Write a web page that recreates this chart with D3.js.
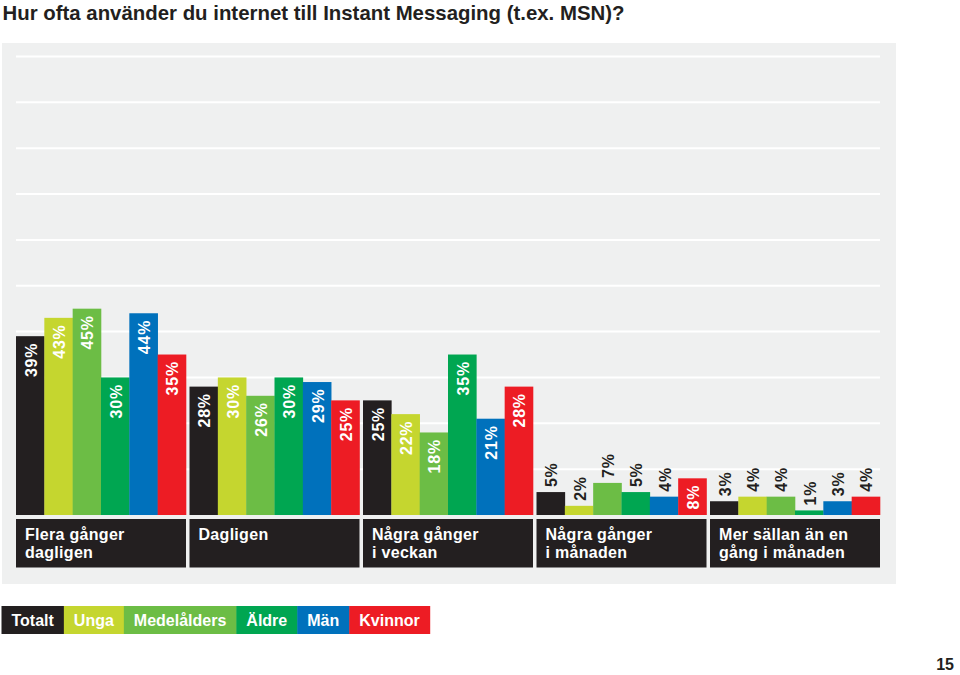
<!DOCTYPE html>
<html>
<head>
<meta charset="utf-8">
<script src="https://cdn.jsdelivr.net/npm/d3@7"></script>
<style>
  html, body { margin: 0; padding: 0; background: #ffffff; }
  svg { display: block; font-family: "Liberation Sans", Arial, Helvetica, sans-serif; }
</style>
</head>
<body>
<svg id="chart" width="960" height="675"></svg>
<script>
// ---- Data ----
const title = "Hur ofta använder du internet till Instant Messaging (t.ex. MSN)?";
const categories = [
  ["Flera gånger", "dagligen"],
  ["Dagligen"],
  ["Några gånger", "i veckan"],
  ["Några gånger", "i månaden"],
  ["Mer sällan än en", "gång i månaden"]
];
const seriesNames = ["Totalt", "Unga", "Medelålders", "Äldre", "Män", "Kvinnor"];
const totalt      = [39, 28, 25, 5, 3];
const unga        = [43, 30, 22, 2, 4];
const medelalders = [45, 26, 18, 7, 4];
const aldre       = [30, 30, 35, 5, 1];
const man         = [44, 29, 21, 4, 3];
const kvinnor     = [35, 25, 28, 8, 4];
const gridTicks   = [10, 20, 30, 40, 50, 60, 70, 80, 90, 100];
const pageNumber  = "15";

const seriesValues = [totalt, unga, medelalders, aldre, man, kvinnor];
const colors = ["#231f20", "#c5d62f", "#6cbd45", "#00a651", "#0071bc", "#ed1c24"];

// ---- Layout ----
const svg = d3.select("#chart");
const baseY = 515;

const x0 = d3.scaleBand().domain(d3.range(categories.length))
  .range([16, 880]).paddingInner(0.0202).paddingOuter(0);
const x1 = d3.scaleBand().domain(d3.range(seriesNames.length))
  .range([0, x0.bandwidth()]).padding(0);
const y = d3.scaleLinear().domain([0, 100]).range([baseY, 56.5]);

// Title
svg.append("text")
  .attr("x", 2.5).attr("y", 19.5)
  .attr("font-size", 21).attr("font-weight", "bold").attr("fill", "#231f20")
  .attr("textLength", 622).attr("lengthAdjust", "spacingAndGlyphs")
  .text(title);

// Background panel
svg.append("rect")
  .attr("x", 2).attr("y", 43).attr("width", 894).attr("height", 541)
  .attr("fill", "#eff0f0");

// Gridlines
svg.append("g").selectAll("line").data(gridTicks).join("line")
  .attr("x1", 16).attr("x2", 880)
  .attr("y1", d => y(d)).attr("y2", d => y(d))
  .attr("stroke", "#ffffff").attr("stroke-width", 2);

// Bars
const flat = [];
categories.forEach((c, ci) => {
  seriesValues.forEach((vals, si) => {
    flat.push({ ci, si, v: vals[ci] });
  });
});

const gBars = svg.append("g");
gBars.selectAll("rect").data(flat).join("rect")
  .attr("x", d => x0(d.ci) + x1(d.si))
  .attr("width", x1.bandwidth() + 0.3)
  .attr("y", d => y(d.v))
  .attr("height", d => baseY - y(d.v))
  .attr("fill", d => colors[d.si]);

// Value labels (rotated)
gBars.selectAll("text").data(flat).join("text")
  .attr("transform", d => {
    const cx = x0(d.ci) + x1(d.si) + x1.bandwidth() / 2 + 0.8;
    const inside = d.v >= 8;
    const ty = inside ? y(d.v) + 6.5 : y(d.v) - 5;
    return `translate(${cx},${ty}) rotate(-90)`;
  })
  .attr("text-anchor", d => d.v >= 8 ? "end" : "start")
  .attr("dy", "0.36em")
  .attr("font-size", 16).attr("font-weight", "bold")
  .attr("letter-spacing", 0.8)
  .attr("fill", d => d.v >= 8 ? "#ffffff" : "#231f20")
  .text(d => d.v + "%");

// Category boxes
const gCat = svg.append("g").selectAll("g").data(categories).join("g")
  .attr("transform", (d, i) => `translate(${x0(i)},519)`);
gCat.append("rect")
  .attr("width", x0.bandwidth()).attr("height", 48.5)
  .attr("fill", "#231f20");
gCat.append("text")
  .attr("font-size", 16).attr("font-weight", "bold").attr("fill", "#ffffff")
  .attr("letter-spacing", 0.3)
  .selectAll("tspan").data(d => d).join("tspan")
  .attr("x", 9).attr("y", (d, i) => 20.5 + i * 18)
  .text(d => d);

// Legend
const legend = svg.append("g").attr("transform", "translate(1.5,606)");
let lx = 0;
seriesNames.forEach((name, i) => {
  const g = legend.append("g");
  const rect = g.append("rect").attr("y", 0).attr("height", 28).attr("fill", colors[i]);
  const t = g.append("text")
    .attr("y", 20).attr("font-size", 16).attr("font-weight", "bold")
    .attr("fill", "#ffffff").text(name);
  const w = t.node().getComputedTextLength() + 20;
  rect.attr("x", lx).attr("width", w + 0.5);
  t.attr("x", lx + 10);
  lx += w;
});

// Page number
svg.append("text")
  .attr("x", 954).attr("y", 670)
  .attr("text-anchor", "end")
  .attr("font-size", 16).attr("font-weight", "bold").attr("fill", "#231f20")
  .text(pageNumber);
</script>
</body>
</html>
